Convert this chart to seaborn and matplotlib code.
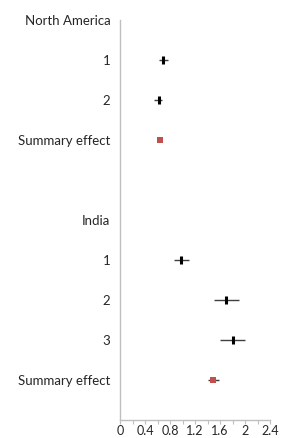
import matplotlib
matplotlib.use("Agg")
import matplotlib.pyplot as plt
import numpy as np
import pandas as pd
import seaborn as sns

# row labels top to bottom (blank row between the two groups)
labels = ["North America", "1", "2", "Summary effect", "",
          "India", "1", "2", "3", "Summary effect"]

# studies: row index, estimate, lower, upper
study_row = [1, 2, 6, 7, 8]
study_est = [0.69, 0.62, 0.97, 1.70, 1.80]
study_lo = [0.62, 0.55, 0.86, 1.51, 1.60]
study_hi = [0.77, 0.67, 1.10, 1.90, 2.00]

# summary effects
summ_row = [3, 9]
summ_est = [0.645, 1.49]
summ_lo = [0.62, 1.40]
summ_hi = [0.67, 1.59]

studies = pd.DataFrame({"row": study_row, "est": study_est, "lo": study_lo, "hi": study_hi})
summary = pd.DataFrame({"row": summ_row, "est": summ_est, "lo": summ_lo, "hi": summ_hi})

sns.set_style("white")
plt.rcParams["font.family"] = ["Lato", "DejaVu Sans"]

fig = plt.figure(figsize=(2.85, 4.38), dpi=100)
ax = fig.add_axes([120 / 285, 1 - 420 / 438, 150 / 285, 400 / 438])

ax.hlines(studies["row"], studies["lo"], studies["hi"], color="#404040", lw=1, zorder=2)
ax.hlines(summary["row"], summary["lo"], summary["hi"], color="#404040", lw=1, zorder=2)
sns.scatterplot(data=studies, x="est", y="row", marker="|", s=40, linewidth=2.2,
                color="black", ax=ax, zorder=3)
sns.scatterplot(data=summary, x="est", y="row", marker="s", s=24, linewidth=0,
                color="#c0504d", ax=ax, zorder=4)

ax.set_xlim(0, 2.4)
ax.set_ylim(10, 0)
ax.set_yticks(range(len(labels)))
ax.set_yticklabels(labels)
ax.tick_params(axis="y", length=0, pad=7, labelsize=9.5, colors="#262626")

ax.set_xticks(np.arange(0, 2.41, 0.4))
ax.set_xticklabels(["0", "0.4", "0.8", "1.2", "1.6", "2", "2.4"])
ax.set_xticks(np.arange(0.2, 2.41, 0.4), minor=True)
ax.tick_params(axis="x", which="both", length=3, width=0.8, color="#bfbfbf",
               direction="out", bottom=True, pad=0.5, labelsize=9, labelcolor="#262626")

for side in ["top", "right"]:
    ax.spines[side].set_visible(False)
for side in ["left", "bottom"]:
    ax.spines[side].set_color("#bfbfbf")
    ax.spines[side].set_linewidth(1)
ax.set_xlabel("")
ax.set_ylabel("")

plt.savefig("out.png", dpi=100)
